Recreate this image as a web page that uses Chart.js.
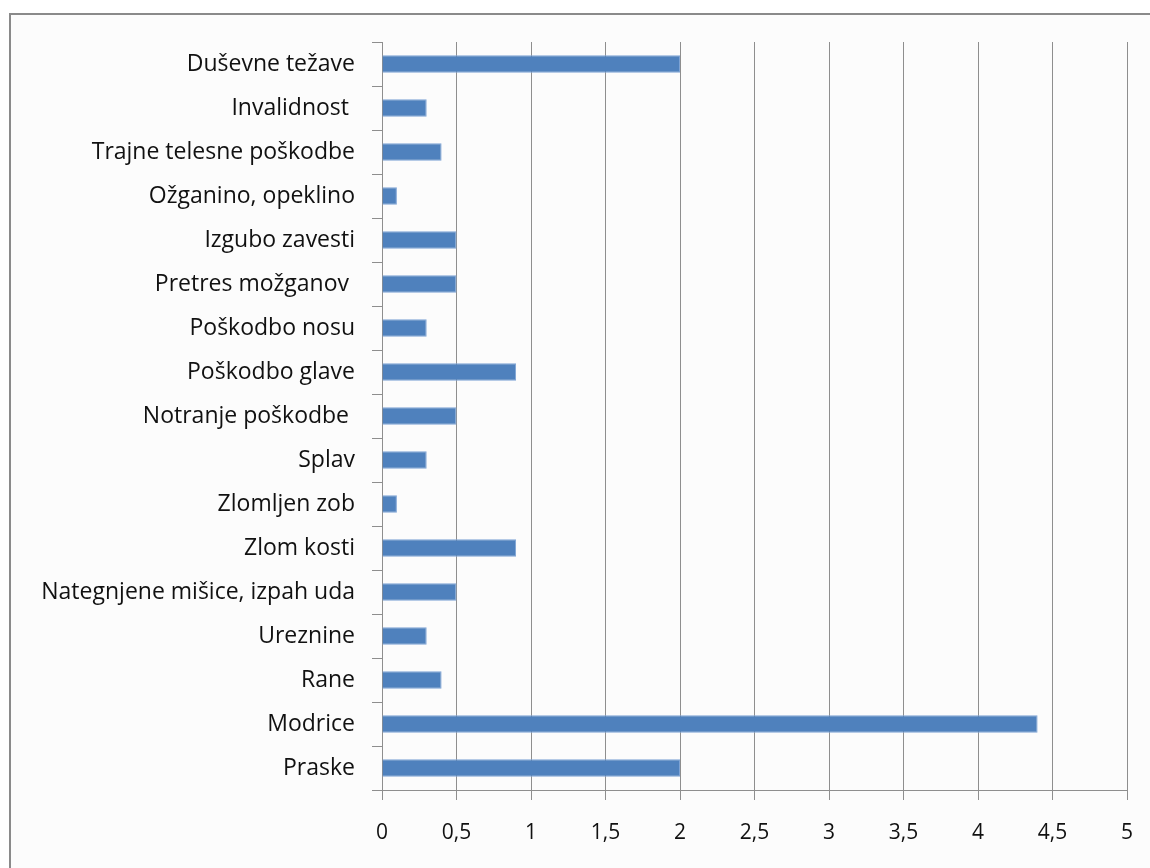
<!DOCTYPE html>
<html>
<head>
<meta charset="utf-8">
<script src="https://cdn.jsdelivr.net/npm/chart.js@4"></script>
<style>
html,body{margin:0;padding:0;background:#fff;}
#wrap{position:relative;width:1150px;height:868px;}
canvas{display:block;}
</style>
</head>
<body>
<div id="wrap"><canvas id="c" width="1150" height="868"></canvas></div>
<script>
const categories = [
  "Duševne težave",
  "Invalidnost ",
  "Trajne telesne poškodbe",
  "Ožganino, opeklino",
  "Izgubo zavesti",
  "Pretres možganov ",
  "Poškodbo nosu",
  "Poškodbo glave",
  "Notranje poškodbe ",
  "Splav",
  "Zlomljen zob",
  "Zlom kosti",
  "Nategnjene mišice, izpah uda",
  "Ureznine",
  "Rane",
  "Modrice",
  "Praske"
];
const values = [2, 0.3, 0.4, 0.1, 0.5, 0.5, 0.3, 0.9, 0.5, 0.3, 0.1, 0.9, 0.5, 0.3, 0.4, 4.4, 2];
const xMin = 0, xMax = 5, xStep = 0.5;

const framePlugin = {
  id: 'frame',
  beforeDraw(chart) {
    const ctx = chart.ctx;
    ctx.save();
    ctx.fillStyle = '#fcfcfc';
    ctx.fillRect(11, 15, 1150, 868);
    ctx.strokeStyle = '#8a8a8a';
    ctx.lineWidth = 2;
    ctx.beginPath();
    ctx.moveTo(10, 880);
    ctx.lineTo(10, 14);
    ctx.lineTo(1160, 14);
    ctx.stroke();
    ctx.restore();
  }
};

new Chart(document.getElementById('c'), {
  type: 'bar',
  data: {
    labels: categories,
    datasets: [{
      data: values,
      backgroundColor: '#4f81bd',
      borderColor: '#7ea3d4',
      borderWidth: 1,
      barPercentage: 0.8,
      categoryPercentage: 0.5
    }]
  },
  options: {
    indexAxis: 'y',
    responsive: false,
    animation: false,
    layout: { padding: { left: 0, top: 42, right: 23, bottom: 0 } },
    plugins: { legend: { display: false }, tooltip: { enabled: false } },
    scales: {
      x: {
        min: xMin, max: xMax,
        ticks: {
          stepSize: xStep,
          color: '#111',
          font: { family: 'Open Sans', size: 21 },
          padding: 20,
          callback: v => String(v).replace('.', ',')
        },
        grid: { color: '#8e8e8e', lineWidth: 1, tickLength: 10 },
        border: { color: '#8e8e8e', width: 1 },
        afterFit(scale) { scale.height = 78; scale.paddingLeft = 0; scale.paddingRight = 0; }
      },
      y: {
        ticks: {
          color: '#111',
          font: { family: 'Open Sans', size: 23 },
          padding: 17,
          autoSkip: false
        },
        grid: { offset: true, drawOnChartArea: false, color: '#8e8e8e', tickLength: 10 },
        border: { color: '#8e8e8e', width: 1 },
        afterFit(scale) { scale.width = 382; }
      }
    }
  },
  plugins: [framePlugin]
});
</script>
</body>
</html>
